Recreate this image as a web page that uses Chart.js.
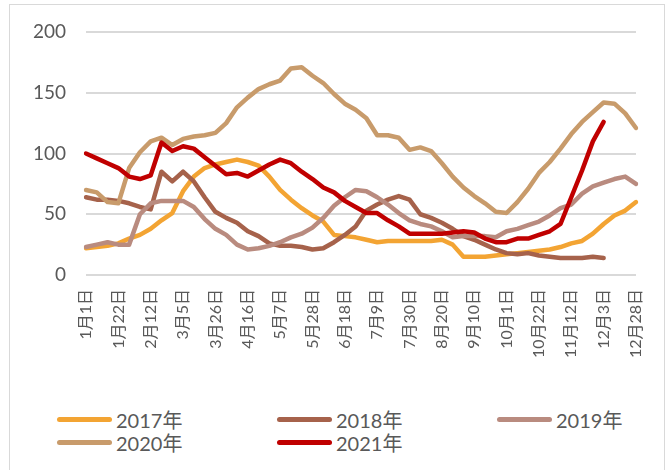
<!DOCTYPE html>
<html>
<head>
<meta charset="utf-8">
<script src="https://cdn.jsdelivr.net/npm/chart.js@4"></script>
<style>
  html, body { margin: 0; padding: 0; background: #fff; }
  #wrap { position: relative; width: 672px; height: 470px; overflow: hidden; }
  #frame { position: absolute; left: 9px; top: 4px; width: 656px; height: 490px; border: 1px solid #d9d9d9; box-sizing: border-box; }
  #myChart { position: absolute; left: 0; top: 0; }
  #legend { position: absolute; left: 57px; top: 408px; display: grid; grid-template-columns: 220px 220px 220px; }
  .item { display: flex; align-items: center; height: 23px; font: 20px Lato, "Noto Sans CJK SC", sans-serif; color: #595959; }
  .swatch { width: 55px; height: 5px; border-radius: 3px; margin-right: 4px; }
</style>
</head>
<body>
<div id="wrap">
  <div id="frame"></div>
  <canvas id="myChart" width="672" height="400"></canvas>
  <div id="legend"></div>
</div>
<script>
const categories = [
  '1月1日','1月8日','1月15日','1月22日','1月29日','2月5日','2月12日','2月19日','2月26日',
  '3月5日','3月12日','3月19日','3月26日','4月2日','4月9日','4月16日','4月23日','4月30日',
  '5月7日','5月14日','5月21日','5月28日','6月4日','6月11日','6月18日','6月25日','7月2日',
  '7月9日','7月16日','7月23日','7月30日','8月6日','8月13日','8月20日','8月27日','9月3日',
  '9月10日','9月17日','9月24日','10月1日','10月8日','10月15日','10月22日','10月29日','11月5日',
  '11月12日','11月19日','11月26日','12月3日','12月10日','12月17日','12月28日'
];
const seriesNames = ['2017年', '2018年', '2019年', '2020年', '2021年'];
const seriesColors = ['#F3A433', '#A6624B', '#B98B7F', '#C89B6B', '#C00000'];

const s2017 = [22,23,24,26,30,33,38,45,51,69,81,88,91,93,95,93,90,81,70,62,55,49,44,33,32,31,
  29,27,28,28,28,28,28,29,25,15,15,15,16,17,18,19,20,21,23,26,28,34,42,49,53,60];
const s2018 = [64,62,62,61,59,56,54,85,77,85,77,64,52,47,43,36,32,26,24,24,23,21,22,27,33,40,
  53,58,62,65,62,50,47,43,38,32,29,25,21,18,17,18,16,15,14,14,14,15,14,null,null,null];
const s2019 = [23,25,27,25,25,50,59,61,61,61,56,46,38,33,25,21,22,24,27,31,34,39,47,57,64,70,
  69,64,58,51,45,42,40,36,31,32,32,32,31,36,38,41,44,49,55,58,67,73,76,79,81,75];
const s2020 = [70,68,60,59,88,101,110,113,107,112,114,115,117,125,138,146,153,157,160,170,171,164,158,149,141,136,
  129,115,115,113,103,105,102,92,81,72,65,59,52,51,60,71,84,93,104,116,126,134,142,141,133,121];
const s2021 = [100,96,92,88,81,79,82,109,102,106,104,97,90,83,84,81,86,91,95,92,85,79,72,68,61,56,
  51,51,45,40,34,34,34,34,35,36,35,30,27,27,30,30,33,36,42,64,86,110,126,null,null,null];
const yTicks = [0, 50, 100, 150, 200];

const allSeries = [s2017, s2018, s2019, s2020, s2021];
const fontFamily = 'Lato, "Noto Sans CJK SC", sans-serif';

const ctx = document.getElementById('myChart');

new Chart(ctx, {
  type: 'line',
  data: {
    labels: categories,
    datasets: allSeries.map((d, i) => ({
      label: seriesNames[i],
      data: d,
      borderColor: seriesColors[i],
      backgroundColor: seriesColors[i],
      borderWidth: 4.5,
      pointRadius: 0,
      tension: 0,
      borderCapStyle: 'round',
      borderJoinStyle: 'round',
      order: 5 - i
    }))
  },
  options: {
    responsive: false,
    animation: false,
    devicePixelRatio: 1,
    layout: { padding: { left: 10, right: 36, top: 32, bottom: 0 } },
    plugins: { legend: { display: false }, tooltip: { enabled: false } },
    scales: {
      x: {
        grid: { display: false },
        border: { display: false },
        afterFit: s => { s.height = 125; },
        ticks: {
          autoSkip: false,
          minRotation: 90,
          maxRotation: 90,
          padding: 6,
          color: '#595959',
          font: { family: fontFamily, size: 16 },
          callback: function (v, i) { return i % 3 === 0 ? this.getLabelForValue(v) : ''; }
        }
      },
      y: {
        min: 0,
        max: 200,
        afterBuildTicks: s => { s.ticks = yTicks.map(v => ({ value: v })); },
        afterFit: s => { s.width = 76; },
        border: { display: false },
        grid: { color: '#d9d9d9', lineWidth: 2, drawTicks: false },
        ticks: {
          padding: 20,
          color: '#595959',
          font: { family: fontFamily, size: 19 }
        }
      }
    }
  }
});

const legend = document.getElementById('legend');
seriesNames.forEach((name, i) => {
  const item = document.createElement('div');
  item.className = 'item';
  const sw = document.createElement('span');
  sw.className = 'swatch';
  sw.style.background = seriesColors[i];
  item.appendChild(sw);
  item.appendChild(document.createTextNode(name));
  legend.appendChild(item);
});
</script>
</body>
</html>
